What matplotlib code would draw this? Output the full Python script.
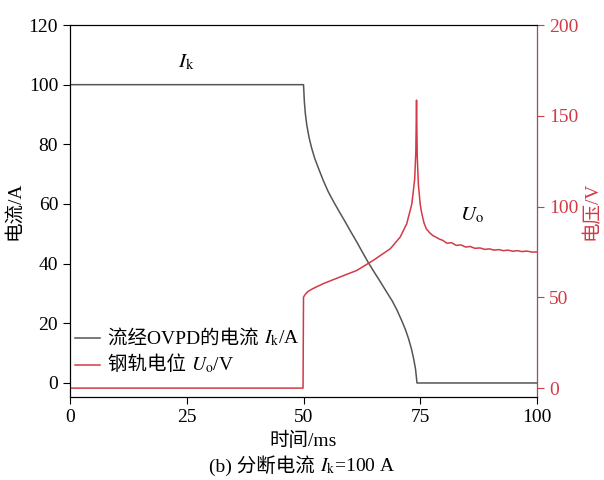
import matplotlib.pyplot as plt
from matplotlib.lines import Line2D
from matplotlib.offsetbox import (AnchoredOffsetbox, DrawingArea, HPacker,
                                  TextArea, VPacker)

fam = ['Liberation Serif', 'Noto Sans CJK SC']
plt.rcParams['font.family'] = fam
plt.rcParams['mathtext.fontset'] = 'stix'
plt.rcParams['font.size'] = 14

# current through OVPD (A)
t_i = [0, 50, 50.05, 50.18, 50.4, 50.7, 51.2, 51.75, 52.4, 53.2, 54.2, 55.3,
       56.5, 57.7, 58.9, 60.2, 61.5, 62.7, 63.9, 65.2, 66.5, 67.8, 69, 70,
       71, 71.8, 72.5, 73.1, 73.6, 74.0, 74.2, 74.3, 100]
cur = [100, 100, 98.5, 94.3, 90.2, 86.5, 82.2, 78.7, 75.3, 72, 68, 64.1,
       60.6, 57.3, 54.1, 50.5, 47, 43.6, 40.3, 37, 33.8, 30.5, 27.5, 24.5,
       21, 18, 14.8, 11.5, 8, 4.5, 1.5, 0, 0]

# rail potential (V)
t_u = [0, 49.9, 50.0, 50.2, 50.5, 51, 52, 54.2, 57.8, 61.4, 64.9, 68.6,
       70.7, 72.1, 73.2, 73.8, 74.05, 74.2, 74.35, 74.6, 75.0, 75.3, 75.8,
       76.3, 77.0, 77.7, 78.3, 79.0, 79.8, 80.7, 81.7, 82.7, 83.7, 84.7,
       85.7, 86.7, 87.8, 88.8, 89.8, 90.8, 91.8, 92.8, 93.8, 94.8, 95.8,
       96.8, 97.8, 99.0, 100]
volt = [0, 0, 50, 51, 52, 53.3, 54.8, 57.5, 61.2, 64.8, 70.3, 76.8,
        83.2, 90.5, 101.5, 115, 130, 158.6, 128, 112, 101, 96.5, 91,
        87.7, 85.6, 84, 83.2, 82.2, 81.4, 79.8, 80.1, 78.6, 78.9, 77.7,
        78.0, 77.0, 77.2, 76.4, 76.7, 76.0, 76.3, 75.7, 76.0, 75.4, 75.7,
        75.2, 75.5, 74.9, 75.0]

gray = '#555555'
red = '#d23a47'

fig = plt.figure(figsize=(6.04, 4.80), dpi=100)
ax = fig.add_axes([0.1159, 0.1729, 0.7732, 0.7750])
ax2 = ax.twinx()

ax.plot(t_i, cur, color=gray, lw=1.1)
ax2.plot(t_u, volt, color=red, lw=1.1)

ax.set_xlim(0, 100)
ax.set_ylim(-4.7, 120)
ax2.set_ylim(-4.9, 200)
ax.set_xticks([0, 25, 50, 75, 100])
ax.set_yticks(range(0, 121, 20))
ax2.set_yticks(range(0, 201, 50))

ax.tick_params(direction='out', length=5, labelsize=14)
ax2.tick_params(direction='out', length=5, labelsize=14, colors=red)
ax2.spines['right'].set_color(red)

ax.set_xlabel('时间/ms', fontsize=14, labelpad=4)
ax.set_ylabel('电流/A', fontsize=14, labelpad=4)
ax2.set_ylabel('电压/V', fontsize=14, color=red, labelpad=3)

ax.text(25, 104, '$I_\\mathrm{k}$', fontsize=15, ha='center', va='bottom')
ax.text(86, 56, '$U_\\mathrm{o}$', fontsize=15, ha='center', va='center')


def mixed(plain, math):
    # CJK text and mathtext can't share one string, so pack them side by side
    t1 = TextArea(plain, textprops=dict(fontsize=14, family=fam))
    t2 = TextArea(math, textprops=dict(fontsize=14))
    return HPacker(children=[t1, t2], align='baseline', pad=0, sep=0)


def legend_row(color, plain, math):
    da = DrawingArea(18, 10)
    da.add_artist(Line2D([0, 18], [5, 5], color=color, lw=1.1))
    return HPacker(children=[da, mixed(plain, math)], align='center',
                   pad=0, sep=6)


rows = VPacker(children=[legend_row(gray, '流经OVPD的电流 ', '$I_\\mathrm{k}$/A'),
                         legend_row(red, '钢轨电位 ', '$U_\\mathrm{o}$/V')],
               align='left', pad=0, sep=5)
leg = AnchoredOffsetbox(loc='lower left', child=rows, pad=0, borderpad=0,
                        frameon=False, bbox_to_anchor=(0.011, 0.06),
                        bbox_transform=ax.transAxes)
ax.add_artist(leg)

cap = AnchoredOffsetbox(loc='center', child=mixed('(b) 分断电流 ', '$I_\\mathrm{k}$=100 A'),
                        pad=0, borderpad=0, frameon=False,
                        bbox_to_anchor=(0.5, 0.03),
                        bbox_transform=fig.transFigure)
fig.add_artist(cap)

fig.savefig('out.png', dpi=100)
